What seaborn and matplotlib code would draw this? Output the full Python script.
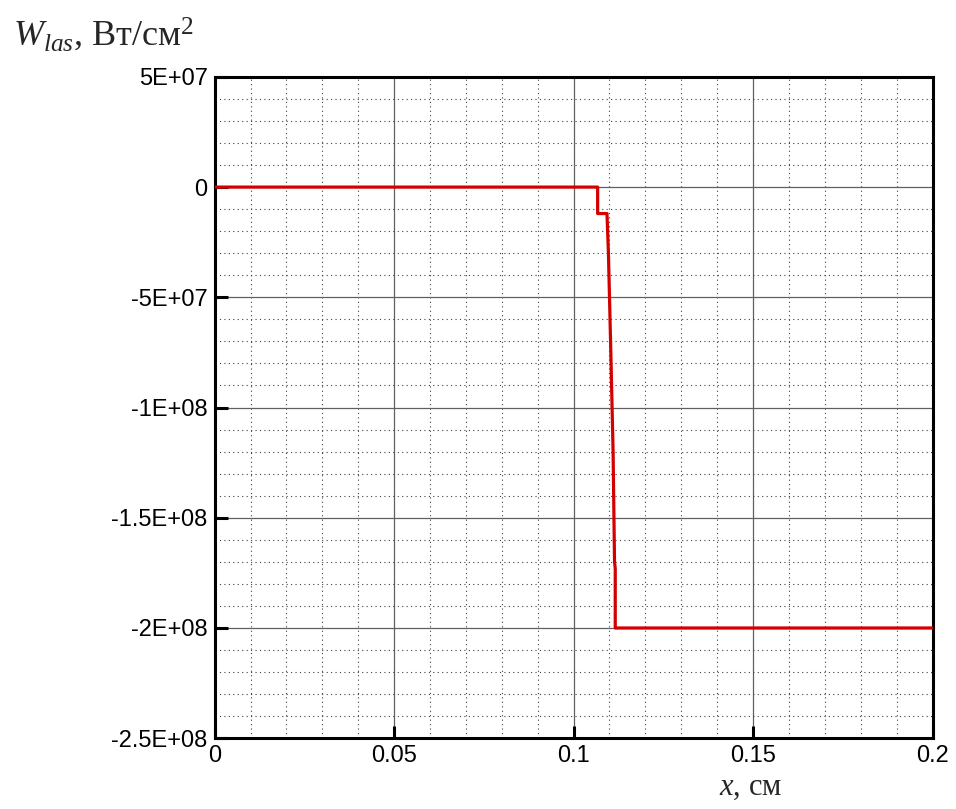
import numpy as np
import pandas as pd
import matplotlib
matplotlib.use("Agg")
import matplotlib.pyplot as plt
import seaborn as sns
from matplotlib.ticker import MultipleLocator

# Laser energy flux profile along x
x_cm = [0.0, 0.1067, 0.1067, 0.1093, 0.1097, 0.1103, 0.1110, 0.1114, 0.1116, 0.1116, 0.2]
w_las = [0.0, 0.0, -1.2e7, -1.2e7, -3.0e7, -7.0e7, -1.2e8, -1.7e8, -1.73e8, -2.0e8, -2.0e8]

x_ticks = [0, 0.05, 0.1, 0.15, 0.2]
x_tick_labels = ["0", "0.05", "0.1", "0.15", "0.2"]
y_ticks = [-2.5e8, -2e8, -1.5e8, -1e8, -5e7, 0, 5e7]
y_tick_labels = ["-2.5E+08", "-2E+08", "-1.5E+08", "-1E+08", "-5E+07", "0", "5E+07"]

sns.set_theme(style="white")
plt.rcParams["font.family"] = ["Liberation Sans", "DejaVu Sans"]
plt.rcParams["mathtext.fontset"] = "custom"
plt.rcParams["mathtext.rm"] = "Liberation Serif"
plt.rcParams["mathtext.it"] = "Liberation Serif:italic"

df = pd.DataFrame({"x": x_cm, "w": w_las})

fig = plt.figure(figsize=(9.56, 8.09), dpi=100)
ax = fig.add_axes([0.2245, 0.0875, 0.751, 0.8175])

sns.lineplot(data=df, x="x", y="w", ax=ax, sort=False, estimator=None,
             color="#d40000", linewidth=2.3, zorder=5)

ax.set_xlim(0, 0.2)
ax.set_ylim(-2.5e8, 5e7)
ax.set_xticks(x_ticks)
ax.set_xticklabels(x_tick_labels)
ax.set_yticks(y_ticks)
ax.set_yticklabels(y_tick_labels)
ax.xaxis.set_minor_locator(MultipleLocator(0.01))
ax.yaxis.set_minor_locator(MultipleLocator(1e7))

ax.grid(which="major", color="#606060", linestyle="-", linewidth=0.9)
ax.grid(which="minor", color="#404040", linestyle=(0, (1, 3)), linewidth=0.8)
ax.set_axisbelow(True)

for side in ["left", "bottom", "top", "right"]:
    ax.spines[side].set_visible(True)
    ax.spines[side].set_color("black")
    ax.spines[side].set_linewidth(2.2)

ax.tick_params(which="major", direction="in", length=9, width=2.2, color="black",
               labelsize=17, labelcolor="black", pad=5,
               bottom=True, left=True, top=False, right=False)
ax.tick_params(which="minor", direction="in", length=0)

ax.set_xlabel("")
ax.set_ylabel("")

fig.text(0.0136, 0.944, r"$W_{las}$, Вт/см$^2$", fontsize=26,
         family=["Liberation Serif", "DejaVu Serif"], ha="left", va="baseline")
fig.text(0.785, 0.0173, r"$x$, см", fontsize=22,
         family=["Liberation Serif", "DejaVu Serif"], ha="center", va="baseline")

fig.savefig("out.png", dpi=100)
